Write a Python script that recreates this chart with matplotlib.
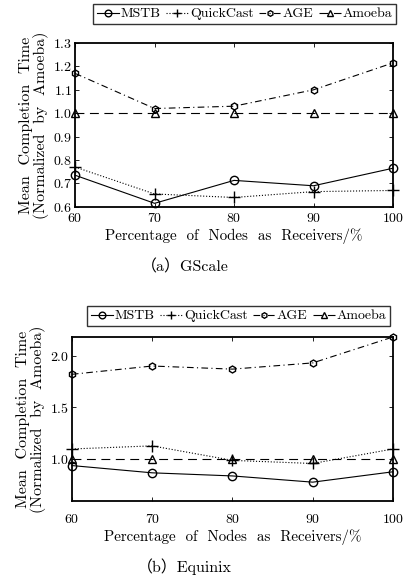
import matplotlib
matplotlib.use('Agg')
import matplotlib.pyplot as plt

plt.rcParams['font.family'] = ['cmr10', 'Noto Sans CJK SC', 'DejaVu Serif']
plt.rcParams['axes.formatter.use_mathtext'] = True
plt.rcParams['mathtext.fontset'] = 'cm'

pct = [60, 70, 80, 90, 100]

# (a) GScale
mstb_a = [0.735, 0.615, 0.713, 0.69, 0.765]
qc_a = [0.77, 0.655, 0.64, 0.665, 0.67]
age_a = [1.17, 1.02, 1.03, 1.10, 1.215]
amoeba_a = [1.0, 1.0, 1.0, 1.0, 1.0]

# (b) Equinix
mstb_b = [0.94, 0.87, 0.84, 0.78, 0.88]
qc_b = [1.10, 1.13, 0.99, 0.96, 1.10]
age_b = [1.82, 1.90, 1.87, 1.93, 2.18]
amoeba_b = [1.0, 1.0, 1.0, 1.0, 1.0]

names = ['MSTB', 'QuickCast', 'AGE', 'Amoeba']
styles = [
    dict(ls='-', marker='o', ms=6),
    dict(ls=':', marker='+', ms=8),
    dict(ls=(0, (6, 3, 1, 3)), marker='h', ms=5),
    dict(ls=(0, (8, 5)), marker='^', ms=6),
]

fig = plt.figure(figsize=(4.06, 5.81), dpi=100)


def panel(rect, series, ylim, yticks, legy, legx, tickpad, capy, cap):
    ax = fig.add_axes(rect)
    for vals, name, st in zip(series, names, styles):
        ax.plot(pct, vals, color='k', lw=0.8, mfc='none', mec='k', mew=1.0,
                label=name, clip_on=False, **st)
    ax.set_xlim(60, 100)
    ax.set_ylim(*ylim)
    ax.set_xticks(pct)
    ax.set_yticks(yticks)
    ax.tick_params(direction='in', top=True, right=True, labelsize=10,
                   length=3, width=0.6)
    ax.tick_params(axis='x', pad=tickpad)
    ax.tick_params(axis='y', pad=2)
    for s in ax.spines.values():
        s.set_linewidth(1.3)
    ax.set_ylabel('Mean  Completion  Time\n(Normalized  by  Amoeba)',
                  fontsize=11.5, linespacing=0.95, labelpad=3)
    ax.set_xlabel('Percentage  of  Nodes  as  Receivers/%', fontsize=10.8,
                  labelpad=2)
    leg = ax.legend(loc='center right', bbox_to_anchor=(legx, legy),
                    bbox_transform=fig.transFigure, ncol=4,
                    fontsize=10, frameon=True, fancybox=False,
                    edgecolor='k', handlelength=1.6, handletextpad=0.15,
                    columnspacing=0.35, borderpad=0.25, borderaxespad=0,
                    markerscale=0.8)
    leg.get_frame().set_linewidth(1.0)
    fig.text(0.455, capy, cap, ha='center', va='center', fontsize=11.5)
    return ax


panel([0.185, 0.644, 0.783, 0.282], [mstb_a, qc_a, age_a, amoeba_a],
      (0.6, 1.3), [0.6, 0.7, 0.8, 0.9, 1.0, 1.1, 1.2, 1.3],
      1 - 14 / 581, 396 / 406, 4, 1 - 267 / 581, '（a）GScale')
panel([0.177, 0.138, 0.791, 0.282], [mstb_b, qc_b, age_b, amoeba_b],
      (0.6, 2.18), [1.0, 1.5, 2.0],
      1 - 316 / 581, 390 / 406, 9, 1 - 567 / 581, '（b）Equinix')

fig.savefig('out.png', dpi=100)
